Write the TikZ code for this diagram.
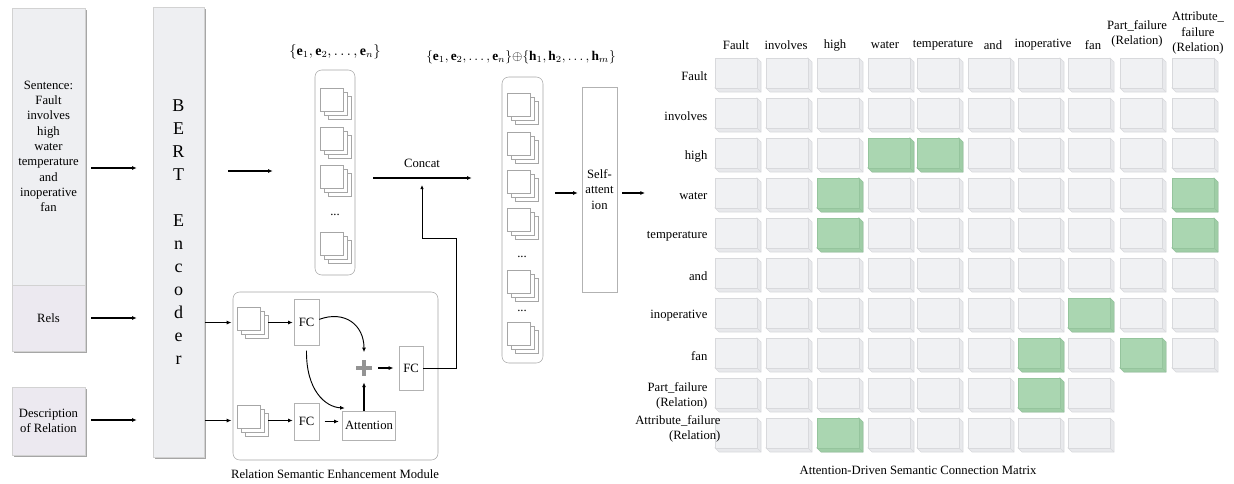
\documentclass[tikz,border=0pt]{standalone}
\usepackage{fontspec}
\setmainfont{Liberation Serif}
\usetikzlibrary{arrows.meta,positioning,shadows}
\definecolor{boxgray}{HTML}{EEEFF2}
\definecolor{boxlav}{HTML}{ECE9F0}
\definecolor{facew}{HTML}{F0F1F3}
\definecolor{sidew}{HTML}{E8E9EC}
\definecolor{edgew}{HTML}{D8D9DC}
\definecolor{faceg}{HTML}{AAD6B1}
\definecolor{sideg}{HTML}{9FCDA6}
\definecolor{edgeg}{HTML}{95C49D}
% three stacked token squares, named by the front box
\newcommand{\tokstack}[3]{%
  \foreach \d in {8,4,0}
    \draw[stk] (#2+\d,#3+\d) rectangle ++(23,23);
  \node[inner sep=0pt, minimum size=23.25pt] (#1) at (#2+15.5,#3+15.5) {};}
% one cell of the matrix: x, y, w/g
\newcommand{\mcell}[3]{%
  \filldraw[fill=side#3, draw=edge#3] (#1+42,#2) -- (#1+46,#2+4) -- (#1+46,#2+34)
    -- (#1+4,#2+34) -- (#1,#2+30) -- (#1+42,#2+30) -- cycle;
  \draw[edge#3] (#1+42,#2+30) -- (#1+46,#2+34);
  \filldraw[fill=face#3, draw=edge#3] (#1,#2) rectangle (#1+42,#2+30);}
\begin{document}
\begin{tikzpicture}[x=0.75pt, y=-0.75pt,
  font=\fontsize{9.5}{11.5}\selectfont,
  box/.style={draw=gray!60, fill=white, inner sep=1pt, align=center},
  srcbox/.style={box, draw=gray!35, drop shadow={shadow xshift=1.2pt,
                 shadow yshift=-1.2pt, fill=gray!70, opacity=1}},
  listbox/.style={draw=gray!70, rounded corners=5pt, fill=white},
  arrow/.style={-{Latex[length=3.5pt,width=3pt]}, line width=0.9pt},
  stk/.style={draw=gray!70, fill=white, line width=0.5pt},
  setlab/.style={font=\fontsize{10.5}{12}\selectfont},
  collab/.style={align=center, inner sep=1pt},
  rowlab/.style={anchor=east, align=right, inner sep=1pt}
]
\useasboundingbox (0,0) rectangle (1234,483);

% inputs and encoder
\node[srcbox, fill=boxgray, minimum width=54.75pt, minimum height=207.75pt,
      text width=52pt] (sent) at (48.5,146.5)
      {Sentence:\\Fault\\involves\\high\\water\\temperature\\and\\inoperative\\fan};
\node[srcbox, fill=boxlav, minimum width=54.75pt, minimum height=49.5pt] (rels) at (48.5,318) {Rels};
\node[srcbox, fill=boxlav, minimum width=54.75pt, minimum height=51pt] (desc) at (48.5,421) {Description\\of Relation};
\node[srcbox, fill=boxgray, minimum width=38.25pt, minimum height=337.5pt,
      font=\fontsize{13.5}{17.25}\selectfont] (bert) at (178.5,232.5)
      {B\\E\\R\\T\\[17.25pt]E\\n\\c\\o\\d\\e\\r};
\draw[arrow, shorten <=4.5pt, shorten >=12pt] (sent.east |- 0,168) -- (bert.west |- 0,168);
\draw[arrow, shorten <=4.5pt, shorten >=12pt] (rels.east) -- (rels.east -| bert.west);
\draw[arrow, shorten <=4.5pt, shorten >=12pt] (desc.east |- 0,420) -- (bert.west |- 0,420);

% entity list
\node[listbox, minimum width=30pt, minimum height=153.75pt] (elist) at (335,172.5) {};
\node[setlab] (elab) at (335,52) {$\{\mathbf{e}_1,\mathbf{e}_2,\dots,\mathbf{e}_n\}$};
\tokstack{ea}{320}{88}
\tokstack{eb}{320}{127}
\tokstack{ec}{320}{165}
\node (edots) at (335,215) {...};
\tokstack{ed}{320}{232}
\draw[arrow, shorten <=18pt, shorten >=31.5pt] (bert.east |- 0,171) -- (elist.west |- 0,171);

% relation semantic enhancement module
\node[listbox, minimum width=153.75pt, minimum height=126pt] (module) at (335.5,376) {};
\node (modcap) at (335,474) {Relation Semantic Enhancement Module};
\tokstack{sa}{237}{307}
\tokstack{sb}{237}{405}
\node[box, minimum width=18.75pt, minimum height=34.5pt] (fca) at (306.5,322) {FC};
\node[box, minimum width=18.75pt, minimum height=27.75pt] (fcb) at (306.5,421.5) {FC};
\node[box, minimum height=21.75pt, inner sep=2pt] (att) at (369,425.5) {Attention};
\node[inner sep=0pt, minimum size=11.25pt] (plus) at (364,368) {};
\draw[gray!85, line width=2.6pt] (plus.north) -- (plus.south) (plus.west) -- (plus.east);
\node[box, minimum width=18pt, minimum height=33pt, drop shadow={shadow xshift=1pt,
      shadow yshift=-1pt, fill=gray!60, opacity=1}] (fcc) at (411,368) {FC};
\draw[arrow, shorten <=0.5pt, shorten >=4pt] (bert.east |- sa) -- (sa.west);
\draw[arrow, shorten <=0.5pt, shorten >=4pt] (bert.east |- sb) -- (sb.west);
\draw[arrow, shorten >=0.75pt] (sa.east) -- (sa.east -| fca.west);
\draw[arrow, shorten >=0.75pt] (sb.east) -- (sb.east -| fcb.west);
\draw[arrow, shorten <=4pt, shorten >=2.5pt] (fcb.east) -- (fcb.east -| att.west);
\draw[-{Latex[length=3.5pt,width=3pt]}, line width=0.7pt] ([yshift=2pt]fca.east) .. controls (345,310) and (364,325) .. ([yshift=6pt]plus.north);
\draw[-{Latex[length=3.5pt,width=3pt]}, line width=0.7pt] ([yshift=-4pt]fca.south) .. controls (306,390) and (325,407) .. ([shift={(2pt,2pt)}]att.north west);
\draw[arrow, shorten >=5pt] (att.north -| plus) -- (plus.south);
\draw[arrow, shorten <=5pt, shorten >=4pt] (plus.east) -- (fcc.west);

% concatenation
\coordinate (cc) at (422,178);
\node (concat) at (422,163) {Concat};
\node[listbox, minimum width=30.75pt, minimum height=214.5pt] (clist) at (522.5,220) {};
\node[setlab, font=\fontsize{10}{12}\selectfont] (clab) at (521,57)
  {$\{\mathbf{e}_1,\mathbf{e}_2,\dots,\mathbf{e}_n\}{\oplus}\{\mathbf{h}_1,\mathbf{h}_2,\dots,\mathbf{h}_m\}$};
\tokstack{ca}{507}{93}
\tokstack{cb}{507}{132}
\tokstack{cc1}{507}{170}
\tokstack{cd}{507}{208}
\node (cdots) at (522,257) {...};
\tokstack{ce}{507}{270}
\node (cdots2) at (522,311) {...};
\tokstack{cf}{507}{322}
\draw[arrow, shorten <=13.5pt, shorten >=22.5pt] (elist.east |- cc) -- (clist.west |- cc);
\draw[line width=0.6pt, -{Latex[length=3pt,width=2.6pt]}] (fcc.east) -- (456,368) |- (422,238) -- ([yshift=-5.25pt]cc);

% self-attention
\coordinate (mx) at (645,193);
\node[box, minimum width=26.25pt, minimum height=153.75pt, text width=24pt] (selfatt) at (599.5,189.5)
      {Self-\\attent\\ion};
\draw[arrow, shorten <=9pt, shorten >=3pt] (clist.east |- mx) -- (selfatt.west |- mx);
\draw[arrow, shorten <=3.75pt] (selfatt.east |- mx) -- (mx);

% attention-driven semantic connection matrix
\foreach \cx [count=\c] in {715,766,817,868,917,968,1018,1068,1120,1172}
  \foreach \r in {1,...,10} {
    \pgfmathtruncatemacro\keep{or(\c<9,\r<9)}
    \ifnum\keep=1 \pgfmathsetmacro\ry{18+40*\r}\mcell{\cx}{\ry}{w}\fi
  }
\foreach \cx/\r in {868/3,917/3,817/4,1172/4,817/5,1172/5,1068/7,1018/8,1120/8,1018/9,817/10} {
  \pgfmathsetmacro\ry{18+40*\r}\mcell{\cx}{\ry}{g}}
\foreach \w/\cx [count=\c] in {Fault/736, involves/786, high/835, water/885,
    temperature/943, and/993, inoperative/1043, fan/1093}
  \node[collab] (col\c) at (\cx,45) {\w};
\node[collab] (col9) at (1137,34) {Part\_failure\\(Relation)};
\node[collab] (col10) at (1198,33) {Attribute\_\\failure\\(Relation)};
\foreach \w [count=\r] in {Fault, involves, high, water, temperature, and,
    inoperative, fan, {Part\_failure\\(Relation)}}
  \node[rowlab] (row\r) at (709,36+40*\r) {\w};
\node[rowlab] (row10) at (722,429) {Attribute\_failure\\(Relation)};
\node (matcap) at (918,470) {Attention-Driven Semantic Connection Matrix};
\end{tikzpicture}
\end{document}
